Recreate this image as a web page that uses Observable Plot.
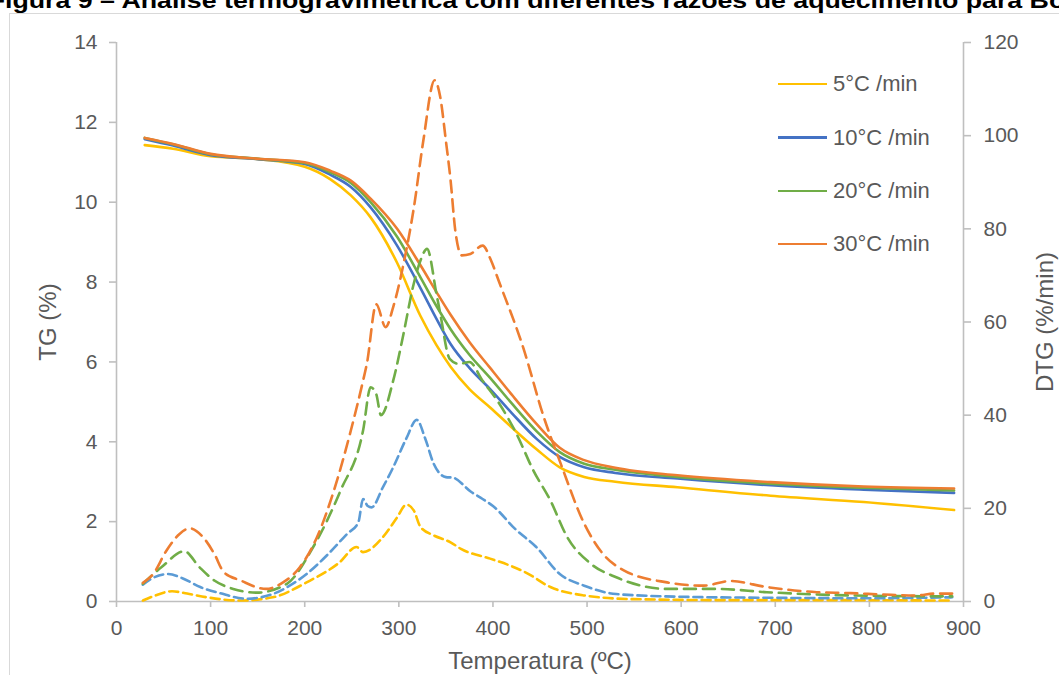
<!DOCTYPE html>
<html>
<head>
<meta charset="utf-8">
<script src="https://cdn.jsdelivr.net/npm/d3@7"></script>
<script src="https://cdn.jsdelivr.net/npm/@observablehq/plot@0.6"></script>
<style>
  html, body { margin: 0; padding: 0; background: #fff; }
  #page { position: relative; width: 1059px; height: 675px; overflow: hidden;
          font-family: "Liberation Sans", Arial, sans-serif; }
  #title { position: relative; height: 13px; overflow: hidden; }
  #frame { position: absolute; left: 9px; top: 13px; width: 1200px; height: 800px;
           border-left: 1px solid #d9d9d9; border-top: 1px solid #d9d9d9; pointer-events: none; }
  #legend { position: absolute; left: 0; top: 0; }
  .key-line { position: absolute; height: 2.5px; }
  .key-text { position: absolute; font-size: 22px; color: #595959; line-height: 22px; white-space: nowrap; }
</style>
</head>
<body>
<div id="page">
  <div id="title"></div>
  <div id="chart"></div>
  <div id="frame"></div>
  <div id="legend"></div>
</div>
<script>
// ---- text ----
const titleText = "Figura 9 – Análise termogravimétrica com diferentes razões de aquecimento para Bo";
const xLabel = "Temperatura (ºC)";
const yLabelLeft = "TG (%)";
const yLabelRight = "DTG (%/min)";
const seriesNames = ["5°C /min", "10°C /min", "20°C /min", "30°C /min"];

// ---- tick values ----
const xTicks = [0, 100, 200, 300, 400, 500, 600, 700, 800, 900];
const tgTicks = [0, 2, 4, 6, 8, 10, 12, 14];
const dtgTicks = [0, 20, 40, 60, 80, 100, 120];

// ---- TG curves (%), common temperature grid (°C) ----
const tgTemp = [30, 60, 100, 150, 200, 227, 249, 270, 298, 323, 340, 355, 375, 397, 420, 447, 471, 497, 530, 596, 695, 794, 890];
const tg5  = [11.43, 11.34, 11.15, 11.08, 10.89, 10.58, 10.17, 9.62, 8.49, 7.15, 6.42, 5.88, 5.32, 4.86, 4.36, 3.80, 3.36, 3.12, 3.00, 2.86, 2.65, 2.49, 2.29];
const tg10 = [11.58, 11.42, 11.18, 11.08, 10.96, 10.69, 10.38, 9.87, 8.92, 7.85, 7.08, 6.45, 5.85, 5.32, 4.72, 4.06, 3.62, 3.36, 3.22, 3.08, 2.91, 2.80, 2.72];
const tg20 = [11.61, 11.45, 11.20, 11.09, 10.98, 10.75, 10.48, 10.00, 9.14, 8.12, 7.40, 6.82, 6.18, 5.60, 4.96, 4.25, 3.74, 3.45, 3.30, 3.12, 2.95, 2.85, 2.78];
const tg30 = [11.61, 11.46, 11.21, 11.09, 11.00, 10.79, 10.54, 10.09, 9.34, 8.42, 7.75, 7.18, 6.50, 5.85, 5.18, 4.43, 3.85, 3.54, 3.35, 3.16, 2.99, 2.88, 2.83];

// ---- DTG curves (%/min) ----
const dtgTemp5 = [28, 40, 59, 75, 96, 131, 166, 202, 237, 255, 262, 283, 298, 308, 316, 323, 337, 355, 366, 397, 417, 436, 461, 497, 549, 645, 744, 888];
const dtg5     = [0.2, 1.2, 2.2, 1.7, 0.9, 0.2, 0.9, 4.1, 8.4, 11.7, 10.6, 13.8, 18.0, 20.8, 19.5, 16.0, 14.2, 12.7, 11.3, 9.2, 7.8, 6.1, 3.1, 1.3, 0.5, 0.3, 0.3, 0.2];

const dtgTemp10 = [28, 40, 55, 70, 89, 110, 138, 166, 184, 202, 224, 245, 257, 262, 267, 271, 283, 294, 308, 319, 328, 337, 350, 357, 377, 389, 400, 424, 446, 471, 497, 531, 605, 695, 794, 888];
const dtg10     = [3.6, 5.2, 5.9, 5.0, 3.1, 1.8, 0.6, 1.6, 3.4, 5.9, 10.0, 14.5, 17.0, 22.0, 20.5, 20.2, 24.5, 28.8, 35.0, 39.0, 35.0, 29.6, 26.7, 26.6, 23.5, 22.0, 20.5, 15.5, 11.7, 5.9, 3.4, 1.6, 1.0, 0.8, 0.7, 0.9];

const dtgTemp20 = [28, 48, 72, 88, 104, 124, 149, 181, 209, 238, 262, 270, 276, 281, 294, 305, 315, 323, 330, 340, 344, 354, 364, 375, 389, 407, 425, 443, 461, 479, 504, 531, 585, 638, 691, 780, 888];
const dtg20     = [3.8, 7.4, 10.8, 7.4, 4.5, 2.7, 1.9, 3.8, 11.7, 23.8, 36.7, 46.0, 44.5, 40.0, 47.4, 57.5, 67.5, 73.2, 75.7, 66.0, 61.8, 52.1, 51.0, 51.4, 47.4, 42.4, 36.0, 28.1, 21.7, 13.8, 8.1, 5.2, 2.7, 2.7, 2.0, 1.3, 1.1];

const dtgTemp30 = [28, 39, 53, 67, 78, 92, 104, 114, 132, 159, 177, 195, 213, 231, 249, 262, 266, 276, 286, 294, 305, 316, 326, 338, 344, 350, 355, 360, 367, 376, 389, 398, 406, 432, 454, 472, 497, 517, 539, 585, 624, 652, 691, 744, 780, 815, 850, 870, 888];
const dtg30     = [4.0, 5.9, 10.9, 14.5, 15.7, 13.8, 10.2, 6.3, 4.5, 2.7, 4.1, 7.4, 13.8, 23.8, 36.7, 47.4, 51.0, 63.8, 58.9, 63.2, 72.5, 84.6, 98.9, 111.9, 108.3, 98.9, 90.4, 79.6, 74.3, 74.6, 76.4, 73.2, 68.9, 54.6, 39.6, 29.6, 16.7, 10.2, 6.7, 4.1, 3.4, 4.4, 3.1, 2.0, 1.8, 1.5, 1.3, 1.7, 1.7];

// ---- colours ----
const tgColors  = ["#FFC000", "#4472C4", "#70AD47", "#ED7D31"];
const dtgColors = ["#FFC000", "#5B9BD5", "#70AD47", "#ED7D31"];
const dtgDashes = ["9,5", "9,5", "12,7", "12,7"];

// DTG is drawn on the TG scale: 120 %/min on the right spans the same height as 14 % on the left
const K = 14 / 120;

const tgValues = [tg5, tg10, tg20, tg30];
const dtgTemps = [dtgTemp5, dtgTemp10, dtgTemp20, dtgTemp30];
const dtgValues = [dtg5, dtg10, dtg20, dtg30];

const tgRows = seriesNames.map((s, i) => tgTemp.map((t, j) => ({T: t, v: tgValues[i][j]})));
const dtgRows = seriesNames.map((s, i) => dtgTemps[i].map((t, j) => ({T: t, v: dtgValues[i][j] * K})));

const font = '"Liberation Sans", Arial, sans-serif';
const axisGrey = "#bfbfbf";
const textGrey = "#595959";

const marks = [
  Plot.ruleY([0], {stroke: axisGrey, strokeWidth: 1.6}),
  Plot.ruleX([0, 900], {stroke: axisGrey, strokeWidth: 1.6}),
  Plot.axisX({ticks: xTicks, tickSize: 6, tickPadding: 13, stroke: axisGrey, strokeWidth: 1.6, fill: textGrey, label: null, tickFormat: d => d}),
  Plot.axisY({ticks: tgTicks, anchor: "left", tickSize: 7, tickPadding: 12, stroke: axisGrey, strokeWidth: 1.6, fill: textGrey, label: null, tickFormat: d => d}),
  Plot.axisY({ticks: dtgTicks.map(v => v * K), anchor: "right", tickSize: 7, tickPadding: 13, stroke: axisGrey, strokeWidth: 1.6, fill: textGrey, label: null, tickFormat: d => Math.round(d / K)}),
  Plot.text([xLabel], {text: d => d, frameAnchor: "bottom", textAnchor: "middle", dy: 67, fontSize: 24, fill: textGrey}),
  Plot.text([yLabelLeft], {text: d => d, frameAnchor: "left", textAnchor: "middle", dx: -68, rotate: -90, fontSize: 24, fill: textGrey}),
  Plot.text([yLabelRight], {text: d => d, frameAnchor: "right", textAnchor: "middle", dx: 82, rotate: -90, fontSize: 24, fill: textGrey})
];

// solid TG curves first, dashed DTG curves on top
tgRows.forEach((rows, i) => {
  marks.push(Plot.line(rows, {x: "T", y: "v", stroke: tgColors[i], strokeWidth: 2.6, curve: "monotone-x"}));
});
dtgRows.forEach((rows, i) => {
  marks.push(Plot.line(rows, {x: "T", y: "v", stroke: dtgColors[i], strokeWidth: 2.6, strokeDasharray: dtgDashes[i], curve: "monotone-x"}));
});

const chart = Plot.plot({
  width: 1059,
  height: 662,
  marginTop: 29,
  marginBottom: 74,
  marginLeft: 116,
  marginRight: 96,
  x: {domain: [0, 900]},
  y: {domain: [0, 14]},
  style: {fontFamily: font, fontSize: "21px", color: textGrey, background: "white", overflow: "visible"},
  marks
});
document.getElementById("chart").appendChild(chart);

// ---- title (bold, running past the page edges) ----
const tsvg = d3.select("#title").append("svg").attr("width", 1059).attr("height", 13).style("display", "block");
const tt = tsvg.append("text")
  .attr("font-family", font).attr("font-weight", "bold").attr("font-size", 22).attr("fill", "#000")
  .text(titleText);
const tnode = tt.node();
const wF = tnode.getSubStringLength(0, 1);
const iB = titleText.lastIndexOf("Bo");
const wB = tnode.getSubStringLength(0, iB);
const sx = (1030 - 5) / (wB - wF);
tt.attr("transform", `translate(${5 - wF * sx},8) scale(${sx},1)`);

// ---- legend (TG curves) ----
const legendTop = [84, 137.5, 191, 244];
const legend = d3.select("#legend");
seriesNames.forEach((name, i) => {
  legend.append("div").attr("class", "key-line")
    .style("left", "778px").style("width", "49px").style("top", (legendTop[i] - 1.25) + "px")
    .style("background", tgColors[i]);
  legend.append("div").attr("class", "key-text")
    .style("left", "833px").style("top", (legendTop[i] - 11) + "px")
    .text(name);
});
</script>
</body>
</html>
